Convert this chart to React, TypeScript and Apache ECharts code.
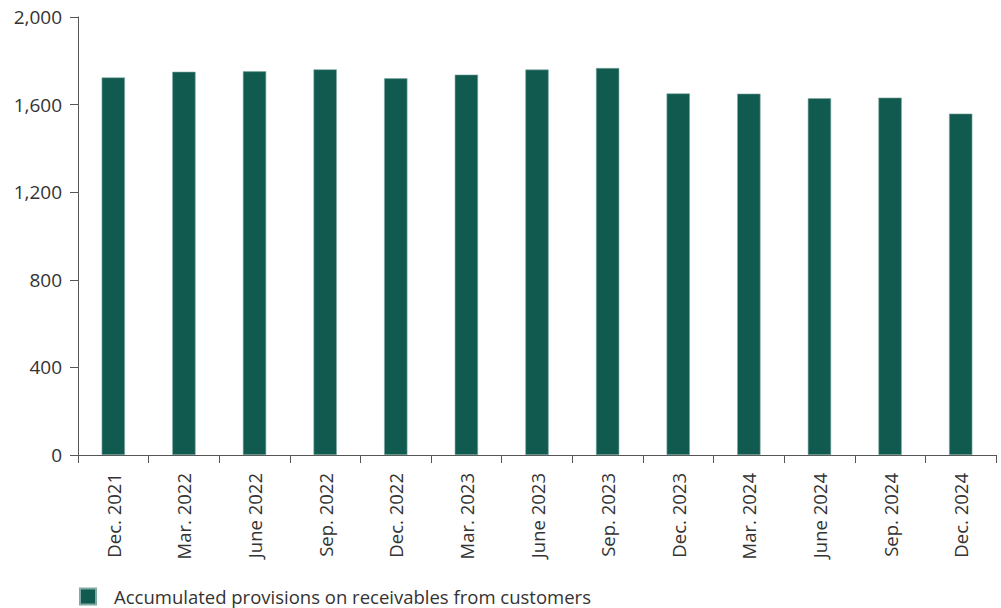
import React, { useEffect, useRef } from "react";
import * as echarts from "echarts";

const categories = [
  "Dec. 2021", "Mar. 2022", "June 2022", "Sep. 2022", "Dec. 2022", "Mar. 2023",
  "June 2023", "Sep. 2023", "Dec. 2023", "Mar. 2024", "June 2024", "Sep. 2024", "Dec. 2024",
];
const provisions = [1724, 1750, 1752, 1761, 1720, 1737, 1760, 1767, 1651, 1650, 1629, 1632, 1559];
const seriesName = "Accumulated provisions on receivables from customers";

export default function App() {
  const ref = useRef<HTMLDivElement>(null);
  useEffect(() => {
    document.body.style.margin = "0";
    const chart = echarts.init(ref.current!, null, { renderer: "svg" });
    const font = "'Open Sans', 'Noto Sans', sans-serif";
    chart.setOption({
      animation: false,
      textStyle: { fontFamily: font },
      grid: { left: 78, right: 5, top: 17, bottom: 153, containLabel: false },
      legend: {
        left: 79,
        top: 587,
        padding: 0,
        itemWidth: 16,
        itemHeight: 16,
        itemGap: 10,
        icon: "rect",
        textStyle: {
          fontSize: 18.5,
          lineHeight: 18,
          color: "#333",
          fontFamily: font,
          padding: [0, 0, 0, 13],
        },
        data: [seriesName],
      },
      xAxis: {
        type: "category",
        data: categories,
        axisLine: { lineStyle: { color: "#555", width: 1 } },
        axisTick: { show: true, length: 8, alignWithLabel: false, lineStyle: { color: "#555" } },
        axisLabel: { rotate: 90, margin: 18, fontSize: 18.5, color: "#333", fontFamily: font, interval: 0 },
      },
      yAxis: {
        type: "value",
        min: 0,
        max: 2000,
        interval: 400,
        axisLine: { show: true, lineStyle: { color: "#555", width: 1 } },
        axisTick: { show: true, length: 8, lineStyle: { color: "#555" } },
        splitLine: { show: false },
        axisLabel: {
          margin: 16,
          fontSize: 19,
          color: "#333",
          fontFamily: font,
          formatter: (v: number) => v.toLocaleString("en-US"),
        },
      },
      series: [
        {
          name: seriesName,
          type: "bar",
          data: provisions,
          barWidth: "33%",
          itemStyle: { color: "#115a4f", borderColor: "#7fa9a2", borderWidth: 0.6 },
        },
      ],
    });
    return () => chart.dispose();
  }, []);
  return <div ref={ref} style={{ width: 1001, height: 608 }} />;
}
